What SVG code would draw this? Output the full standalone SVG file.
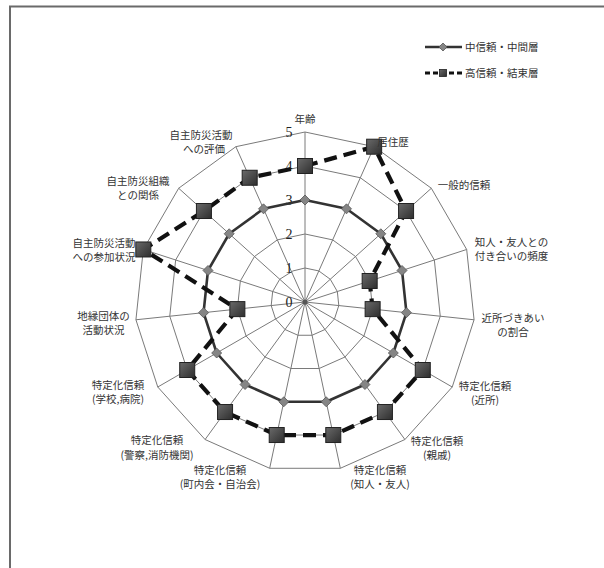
<svg xmlns="http://www.w3.org/2000/svg" xmlns:xlink="http://www.w3.org/1999/xlink" width="604" height="568" viewBox="0 0 604 568">
<style>
.lbl{font-family:"Noto Sans CJK JP","Noto Sans CJK SC",sans-serif;font-size:10.5px;fill:#333;text-anchor:middle}
.tick{font-family:"Liberation Serif",serif;font-size:14px;fill:#222;text-anchor:middle}
.ring{fill:none;stroke:#7a7a7a;stroke-width:1}
.axis{stroke:#7a7a7a;stroke-width:1}
.s1{fill:none;stroke:#333;stroke-width:2.6;stroke-linejoin:round}
.s2{fill:none;stroke:#111;stroke-width:4.2;stroke-dasharray:13 7}
.frame{stroke:#6a6a6a;stroke-width:2;fill:none}
</style>
<defs>
<linearGradient id="sqg" x1="0" y1="0" x2="1" y2="1">
<stop offset="0" stop-color="#6a6a6a"/>
<stop offset="1" stop-color="#2e2e2e"/>
</linearGradient>
<path id="dia" d="M0,-5 L5,0 L0,5 L-5,0 Z" fill="#858585" stroke="#555" stroke-width="0.8"/>
<rect id="sq" x="-7.5" y="-7.5" width="15" height="15" fill="url(#sqg)" stroke="#222" stroke-width="1"/>
</defs>
<rect width="604" height="568" fill="#fff"/>
<path class="frame" d="M10,568 L10,6.5 L604,6.5"/>
<g id="grid">
<polygon class="ring" points="305,268 318.83,270.94 330.27,279.25 337.34,291.49 338.81,305.55 334.44,319 324.98,329.51 312.07,335.26 297.93,335.26 285.02,329.51 275.56,319 271.19,305.55 272.66,291.49 279.73,279.25 292.93,270.94"/>
<polygon class="ring" points="305,234 332.66,239.88 355.53,256.5 369.67,280.99 372.63,309.11 363.89,336 344.97,357.01 319.14,368.51 290.86,368.51 265.03,357.01 246.11,336 237.37,309.11 240.33,280.99 254.47,256.5 277.34,239.88"/>
<polygon class="ring" points="305,200 346.49,208.82 380.8,233.75 402.01,270.48 406.44,312.66 393.33,353 364.95,384.52 326.21,401.77 283.79,401.77 245.05,384.52 216.67,353 203.56,312.66 207.99,270.48 229.2,233.75 263.51,208.82"/>
<polygon class="ring" points="305,166 360.32,177.76 406.07,211 434.34,259.97 440.25,316.22 422.78,370 384.94,412.03 333.28,435.03 276.72,435.03 225.06,412.03 187.22,370 169.75,316.22 175.66,259.97 203.93,211 249.68,177.76"/>
<polygon class="ring" points="305,132 374.15,146.7 431.33,188.25 466.68,249.47 474.07,319.77 452.22,387 404.92,439.53 340.34,468.29 269.66,468.29 205.08,439.53 157.78,387 135.93,319.77 143.32,249.47 178.67,188.25 235.85,146.7"/>
<g class="axis">
<line x1="305" y1="302" x2="305" y2="132"/>
<line x1="305" y1="302" x2="374.15" y2="146.7"/>
<line x1="305" y1="302" x2="431.33" y2="188.25"/>
<line x1="305" y1="302" x2="466.68" y2="249.47"/>
<line x1="305" y1="302" x2="474.07" y2="319.77"/>
<line x1="305" y1="302" x2="452.22" y2="387"/>
<line x1="305" y1="302" x2="404.92" y2="439.53"/>
<line x1="305" y1="302" x2="340.34" y2="468.29"/>
<line x1="305" y1="302" x2="269.66" y2="468.29"/>
<line x1="305" y1="302" x2="205.08" y2="439.53"/>
<line x1="305" y1="302" x2="157.78" y2="387"/>
<line x1="305" y1="302" x2="135.93" y2="319.77"/>
<line x1="305" y1="302" x2="143.32" y2="249.47"/>
<line x1="305" y1="302" x2="178.67" y2="188.25"/>
<line x1="305" y1="302" x2="235.85" y2="146.7"/>
</g>
<circle cx="305" cy="302" r="2.5" fill="#555"/>
</g>
<g id="ticks">
<text class="tick" x="289" y="307">0</text>
<text class="tick" x="289" y="273">1</text>
<text class="tick" x="289" y="239">2</text>
<text class="tick" x="289" y="205">3</text>
<text class="tick" x="289" y="171">4</text>
<text class="tick" x="289" y="137">5</text>
</g>
<g id="connectors">
<polygon id="series-mid" class="s1" points="305,200 346.49,208.82 380.8,233.75 402.01,270.48 406.44,312.66 393.33,353 364.95,384.52 326.21,401.77 283.79,401.77 245.05,384.52 216.67,353 203.56,312.66 207.99,270.48 229.2,233.75 263.51,208.82"/>
<polygon id="series-high" class="s2" points="305,166 374.15,146.7 406.07,211 369.67,280.99 372.63,309.11 422.78,370 384.94,412.03 333.28,435.03 276.72,435.03 225.06,412.03 187.22,370 237.37,309.11 143.32,249.47 203.93,211 249.68,177.76"/>
</g>
<g id="markers-mid">
<use xlink:href="#dia" x="305" y="200"/>
<use xlink:href="#dia" x="346.49" y="208.82"/>
<use xlink:href="#dia" x="380.8" y="233.75"/>
<use xlink:href="#dia" x="402.01" y="270.48"/>
<use xlink:href="#dia" x="406.44" y="312.66"/>
<use xlink:href="#dia" x="393.33" y="353"/>
<use xlink:href="#dia" x="364.95" y="384.52"/>
<use xlink:href="#dia" x="326.21" y="401.77"/>
<use xlink:href="#dia" x="283.79" y="401.77"/>
<use xlink:href="#dia" x="245.05" y="384.52"/>
<use xlink:href="#dia" x="216.67" y="353"/>
<use xlink:href="#dia" x="203.56" y="312.66"/>
<use xlink:href="#dia" x="207.99" y="270.48"/>
<use xlink:href="#dia" x="229.2" y="233.75"/>
<use xlink:href="#dia" x="263.51" y="208.82"/>
</g>
<g id="markers-high">
<use xlink:href="#sq" x="305" y="166"/>
<use xlink:href="#sq" x="374.15" y="146.7"/>
<use xlink:href="#sq" x="406.07" y="211"/>
<use xlink:href="#sq" x="369.67" y="280.99"/>
<use xlink:href="#sq" x="372.63" y="309.11"/>
<use xlink:href="#sq" x="422.78" y="370"/>
<use xlink:href="#sq" x="384.94" y="412.03"/>
<use xlink:href="#sq" x="333.28" y="435.03"/>
<use xlink:href="#sq" x="276.72" y="435.03"/>
<use xlink:href="#sq" x="225.06" y="412.03"/>
<use xlink:href="#sq" x="187.22" y="370"/>
<use xlink:href="#sq" x="237.37" y="309.11"/>
<use xlink:href="#sq" x="143.32" y="249.47"/>
<use xlink:href="#sq" x="203.93" y="211"/>
<use xlink:href="#sq" x="249.68" y="177.76"/>
</g>
<g id="axis-labels">
<g id="l-age"><text class="lbl" x="305" y="123">年齢</text></g>
<g id="l-residence"><text class="lbl" x="393" y="146">居住歴</text></g>
<g id="l-general-trust"><text class="lbl" x="464" y="189">一般的信頼</text></g>
<g id="l-friends-freq"><text class="lbl" x="511.5" y="246">知人・友人との</text><text class="lbl" x="511.5" y="260">付き合いの頻度</text></g>
<g id="l-neighbor-ratio"><text class="lbl" x="513" y="321.5">近所づきあい</text><text class="lbl" x="513" y="335.5">の割合</text></g>
<g id="l-t-neighbor"><text class="lbl" x="485" y="390">特定化信頼</text><text class="lbl" x="485" y="404">(近所)</text></g>
<g id="l-t-relatives"><text class="lbl" x="437" y="445">特定化信頼</text><text class="lbl" x="437" y="459">(親戚)</text></g>
<g id="l-t-friends"><text class="lbl" x="380" y="474">特定化信頼</text><text class="lbl" x="380" y="488">(知人・友人)</text></g>
<g id="l-t-chonaikai"><text class="lbl" x="220" y="473.5">特定化信頼</text><text class="lbl" x="220" y="488">(町内会・自治会)</text></g>
<g id="l-t-police"><text class="lbl" x="157" y="444">特定化信頼</text><text class="lbl" x="157" y="459">(警察,消防機関)</text></g>
<g id="l-t-school"><text class="lbl" x="118" y="389">特定化信頼</text><text class="lbl" x="118" y="403">(学校,病院)</text></g>
<g id="l-local-groups"><text class="lbl" x="103.5" y="320">地縁団体の</text><text class="lbl" x="103.5" y="334">活動状況</text></g>
<g id="l-participation"><text class="lbl" x="104" y="246.5">自主防災活動</text><text class="lbl" x="104" y="260.5">への参加状況</text></g>
<g id="l-org-relation"><text class="lbl" x="138" y="184.5">自主防災組織</text><text class="lbl" x="138" y="198.5">との関係</text></g>
<g id="l-evaluation"><text class="lbl" x="201" y="138.5">自主防災活動</text><text class="lbl" x="204" y="153">への評価</text></g>
</g>
<g id="legend">
<line x1="425" y1="47" x2="462" y2="47" stroke="#333" stroke-width="2.6"/>
<path d="M443,43 L447,47 L443,51 L439,47 Z" fill="#858585" stroke="#555" stroke-width="0.8"/>
<text class="lbl" x="465" y="51" style="text-anchor:start">中信頼・中間層</text>
<line x1="425" y1="73" x2="462" y2="73" stroke="#111" stroke-width="3" stroke-dasharray="5 3"/>
<rect x="439.5" y="69.5" width="7" height="7" fill="url(#sqg)" stroke="#222" stroke-width="0.8"/>
<text class="lbl" x="465" y="77" style="text-anchor:start">高信頼・結束層</text>
</g>
</svg>
